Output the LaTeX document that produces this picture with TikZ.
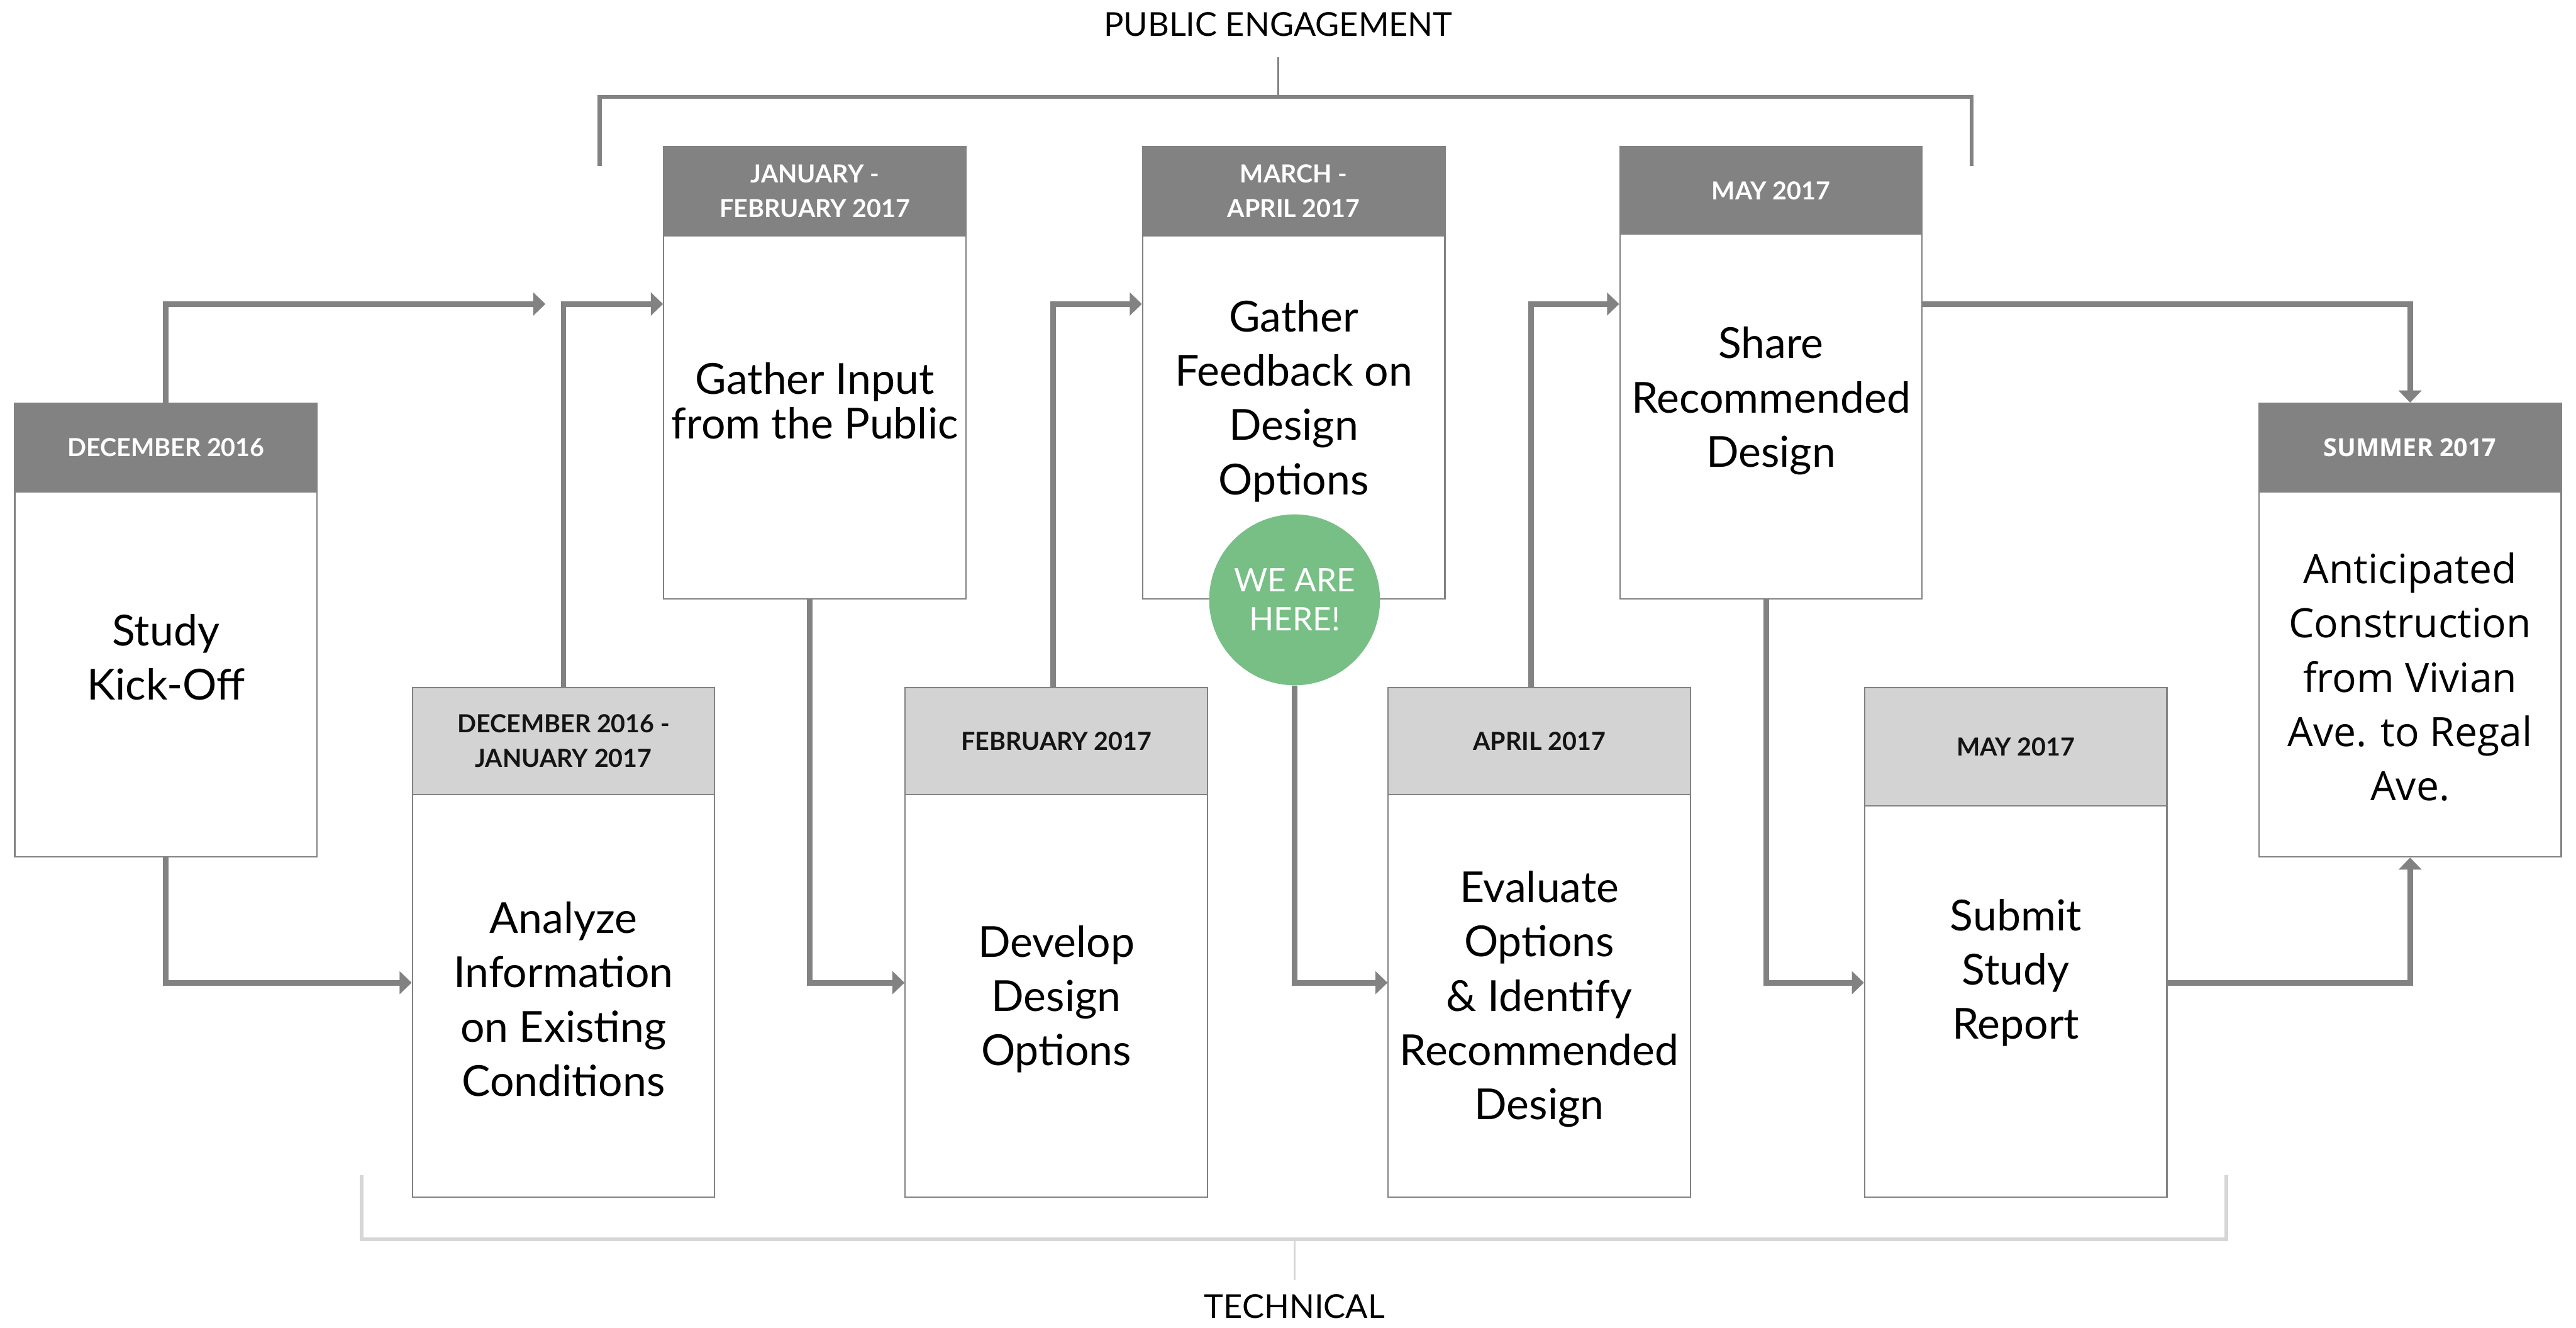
\documentclass[tikz,border=0pt]{standalone}
\usepackage{fontspec}
\setmainfont{Lato}
\newfontfamily\wideface{Open Sans}
\usetikzlibrary{arrows.meta,calc}

\definecolor{steel}{HTML}{828282}
\definecolor{pale}{HTML}{D3D3D3}
\definecolor{palebar}{HTML}{D6D6D6}
\definecolor{leaf}{HTML}{77BF85}
\definecolor{ink}{HTML}{141414}

\tikzset{
  frame/.style={draw=steel, line width=1.2pt, fill=white, inner sep=0pt},
  headfont/.style={font=\fontsize{21.5}{30}\selectfont\bfseries},
  darkhead/.style={fill=steel, draw=steel, line width=1.2pt, text=white,
    headfont, align=center, inner sep=0pt},
  lighthead/.style={fill=pale, draw=steel, line width=1.2pt, text=ink,
    headfont, align=center, inner sep=0pt},
  bodytext/.style={font=\fontsize{37}{47}\selectfont, align=center,
    text=black, inner sep=0pt},
  conn/.style={draw=steel, line width=4.8pt, line join=miter,
    -{Triangle[length=10.5pt,width=19.5pt]}},
  topbrace/.style={draw=steel, line width=3.4pt},
  lowbrace/.style={draw=palebar, line width=3.4pt},
  stem/.style={line width=2pt},
  groupname/.style={font=\fontsize{28.5}{34}\selectfont, text=black, inner sep=0pt},
}

% a stage: outlined box with a coloured header strip carrying the date
% #1 name, #2 centre x, #3 top y, #4 bottom y, #5 header bottom y,
% #6 header style, #7 header text
\newcommand\stagebox[7]{%
  \node[frame, minimum width=9.2cm, minimum height={(#4-#3)*0.05cm},
        anchor=north] (#1) at (#2,#3) {};
  \node[#6, minimum width=9.2cm, minimum height={(#5-#3)*0.05cm},
        anchor=north] (#1-head) at (#2,#3) {#7};
}

\begin{document}
\begin{tikzpicture}[x=0.05cm, y=-0.05cm]
  \useasboundingbox (0,0) rectangle (1568,808);

  % rows used by the connectors
  \coordinate (high) at (0,185);
  \coordinate (low) at (0,598);

  % ---- group braces ----
  \node[groupname] (pe) at (778,15) {PUBLIC ENGAGEMENT};
  \coordinate (pe-stem) at (778,35);
  \coordinate (pe-mid) at (778,59);
  \draw[topbrace] (365,101) -- (365,59) -- (1200,59) -- (1200,101);
  \draw[topbrace, stem] (pe-stem) -- (pe-mid);

  \node[groupname] (tech) at (788,795) {TECHNICAL};
  \coordinate (tech-stem) at (788,779);
  \coordinate (tech-mid) at (788,754);
  \draw[lowbrace] (220,715) -- (220,754) -- (1355,754) -- (1355,715);
  \draw[lowbrace, stem] (tech-mid) -- (tech-stem);

  % ---- stages ----
  \stagebox{A}{101}{245}{521}{299}{darkhead}{DECEMBER 2016}
  \stagebox{B}{343}{418}{728}{483}{lighthead}{DECEMBER 2016 -\\JANUARY 2017}
  \stagebox{C}{496}{89}{364}{143}{darkhead}{JANUARY -\\FEBRUARY 2017}
  \stagebox{D}{643}{418}{728}{483}{lighthead}{FEBRUARY 2017}
  \stagebox{E}{787.5}{89}{364}{143}{darkhead}{MARCH -\\APRIL 2017}
  \stagebox{G}{937}{418}{728}{483}{lighthead}{APRIL 2017}
  \stagebox{H}{1078}{89}{364}{142}{darkhead}{MAY 2017}
  \stagebox{I}{1227}{418}{728}{490}{lighthead}{MAY 2017}
  \stagebox{J}{1467}{245}{521}{299}{darkhead}{\wideface SUMMER 2017}

  \node[bodytext] (A-text) at (101,400) {Study\\Kick-Off};
  \node[bodytext] (B-text) at (343,608) {Analyze\\Information\\on Existing\\Conditions};
  \node[bodytext, font=\fontsize{37}{38.5}\selectfont] (C-text) at (496,244) {Gather Input\\from the Public};
  \node[bodytext] (D-text) at (643,608) {Develop\\Design\\Options};
  \node[bodytext] (E-text) at (787.5,244) {Gather\\Feedback on\\Design\\Options};
  \node[bodytext] (G-text) at (937,608) {Evaluate\\Options\\\& Identify\\Recommended\\Design};
  \node[bodytext] (H-text) at (1078,244) {Share\\Recommended\\Design};
  \node[bodytext] (I-text) at (1227,592) {Submit\\Study\\Report};
  \node[bodytext, font=\wideface\fontsize{35}{47}\selectfont] (J-text) at (1467,412)
    {Anticipated\\Construction\\from Vivian\\Ave. to Regal\\Ave.};

  % current-position marker
  \node[circle, fill=leaf, minimum size=5.2cm, inner sep=0pt, text=white,
        align=center, font=\fontsize{28}{34}\selectfont] (here) at (788,365)
        {WE ARE\\HERE!};

  % ---- connectors ----
  \coordinate (loose) at (332,185);
  \draw[conn] (A.north) |- (loose);
  \draw[conn] (A.south) |- (B.west |- low);
  \draw[conn] (B.north) |- (C.west |- high);
  \draw[conn] ([xshift=-0.15cm]C.south) |- (D.west |- low);
  \draw[conn] ([xshift=-0.1cm]D.north) |- (E.west |- high);
  \draw[conn] (here.south) |- (G.west |- low);
  \draw[conn] ([xshift=-0.25cm]G.north) |- (H.west |- high);
  \draw[conn] ([xshift=-0.15cm]H.south) |- (I.west |- low);
  \draw[conn] (H.east |- high) -| (J.north);
  \draw[conn] (I.east |- low) -| (J.south);
\end{tikzpicture}
\end{document}
